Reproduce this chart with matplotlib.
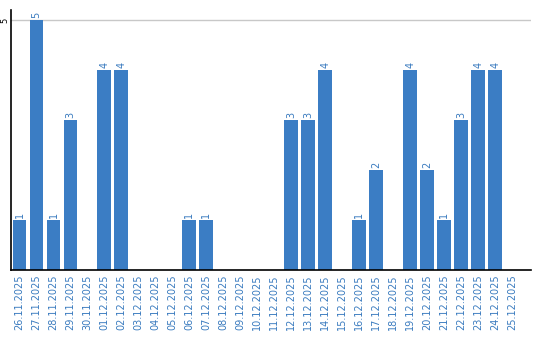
import matplotlib
matplotlib.use("Agg")
import matplotlib.pyplot as plt
import numpy as np

dates = ["26.11.2025", "27.11.2025", "28.11.2025", "29.11.2025", "30.11.2025",
         "01.12.2025", "02.12.2025", "03.12.2025", "04.12.2025", "05.12.2025",
         "06.12.2025", "07.12.2025", "08.12.2025", "09.12.2025", "10.12.2025",
         "11.12.2025", "12.12.2025", "13.12.2025", "14.12.2025", "15.12.2025",
         "16.12.2025", "17.12.2025", "18.12.2025", "19.12.2025", "20.12.2025",
         "21.12.2025", "22.12.2025", "23.12.2025", "24.12.2025", "25.12.2025"]
counts = [1, 5, 1, 3, 0, 4, 4, 0, 0, 0, 1, 1, 0, 0, 0,
          0, 3, 3, 4, 0, 1, 2, 0, 4, 2, 1, 3, 4, 4, 0]

bar_color = "#3b7dc4"
text_color = "#3a7bbf"

fig = plt.figure(figsize=(5.4, 3.4), dpi=100)
ax = fig.add_axes([11 / 540, 70 / 340, 520 / 540, 260 / 340])

x = np.arange(len(dates))
ax.bar(x, counts, width=0.82, color=bar_color, zorder=2)

# value labels above non-empty bars
for xi, v in zip(x, counts):
    if v > 0:
        ax.text(xi, v + 0.05, str(v), rotation=90, ha="center", va="bottom",
                color=text_color, fontsize=7)

ax.set_xlim(-0.5, 30.1)
ax.set_ylim(0, 5.2)
ax.axhline(5, color="#c8c8c8", lw=1, zorder=1)

ax.set_xticks(x)
ax.set_xticklabels(dates, rotation=90, color=text_color, fontsize=7)
ax.set_yticks([5])
ax.set_yticklabels(["5"], rotation=90, fontsize=6, va="center")
ax.tick_params(axis="y", length=0, pad=1)
ax.tick_params(axis="x", length=0, pad=3)

for side in ["top", "right"]:
    ax.spines[side].set_visible(False)
ax.spines["left"].set_linewidth(1.2)
ax.spines["bottom"].set_linewidth(1.2)

fig.savefig("out.png", dpi=100)
